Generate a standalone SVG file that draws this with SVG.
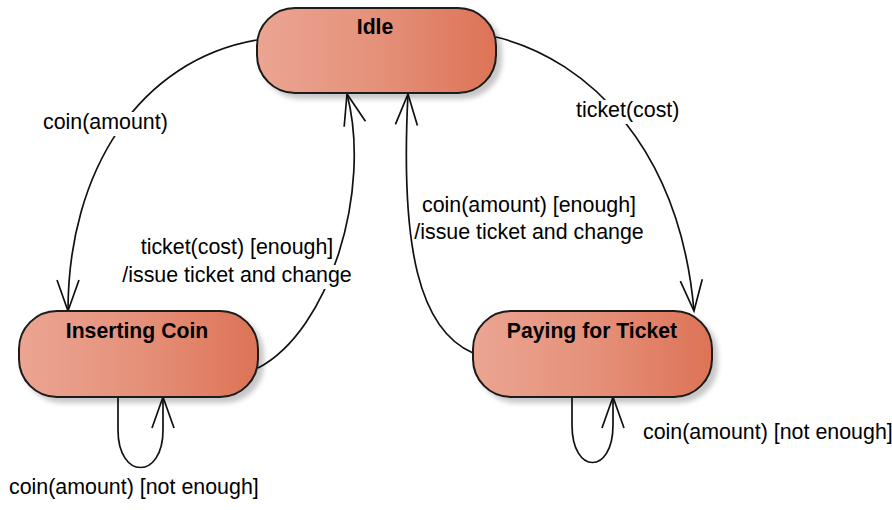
<svg xmlns="http://www.w3.org/2000/svg" width="892" height="510" viewBox="0 0 892 510">
<defs>
<linearGradient id="fillG" x1="0" y1="0" x2="1" y2="0">
<stop offset="0" stop-color="#EBA592"/>
<stop offset="0.5" stop-color="#E5917A"/>
<stop offset="1" stop-color="#DD7356"/>
</linearGradient>
<filter id="shadow" x="-10%" y="-10%" width="130%" height="140%">
<feDropShadow dx="5" dy="5" stdDeviation="2.5" flood-color="#000" flood-opacity="0.22"/>
</filter>
<marker id="open" markerUnits="userSpaceOnUse" markerWidth="40" markerHeight="30" viewBox="-34 -15 40 30" refX="0" refY="0" orient="auto">
<path d="M-31,-11 L0,0 L-31,11" fill="none" stroke="#111" stroke-width="1.7"/>
</marker>
</defs>
<style>
.state{fill:url(#fillG);stroke:#1a1a1a;stroke-width:2;filter:url(#shadow)}
.title{font-family:"Liberation Sans",Arial,sans-serif;font-size:21.2px;font-weight:bold;fill:#000;text-anchor:middle}
.lbl{font-family:"Liberation Sans",Arial,sans-serif;font-size:21.4px;fill:#000}
.edge{fill:none;stroke:#111;stroke-width:1.7;marker-end:url(#open)}
.bg{fill:#fff}
</style>
<rect width="892" height="510" fill="#fff"/>
<g id="connectors">
<path class="edge" d="M257,40 C140,60 68,170 68,311"/>
<path class="edge" d="M258,368 C330,330 372,190 347,94"/>
<path class="edge" d="M473,353 C420,330 400,250 408,94"/>
<path class="edge" d="M496,37 C590,60 680,150 694,311"/>
<path class="edge" d="M118,397 L118,430 C118,480 163,480 163,430 L163,397"/>
<path class="edge" d="M572,397 L572,425 C572,475 613,475 613,425 L613,397"/>
</g>
<g id="labels">
<rect class="bg" x="41" y="112" width="128" height="24"/>
<text class="lbl" x="43" y="129">coin(amount)</text>
<rect class="bg" x="574" y="100" width="106" height="24"/>
<text class="lbl" x="576" y="117">ticket(cost)</text>
<rect class="bg" x="136" y="237" width="198" height="24"/>
<rect class="bg" x="120" y="265" width="235" height="24"/>
<text class="lbl" x="237" y="254" text-anchor="middle">ticket(cost) [enough]</text>
<text class="lbl" x="237" y="282" text-anchor="middle">/issue ticket and change</text>
<text class="lbl" x="529" y="212" text-anchor="middle">coin(amount) [enough]</text>
<text class="lbl" x="529" y="239" text-anchor="middle">/issue ticket and change</text>
<text class="lbl" x="9" y="494">coin(amount) [not enough]</text>
<text class="lbl" x="643" y="439">coin(amount) [not enough]</text>
</g>
<g id="idle">
<rect class="state" x="257" y="8" width="239" height="85" rx="38" ry="38"/>
<text class="title" x="375" y="34">Idle</text>
</g>
<g id="inserting-coin">
<rect class="state" x="19" y="311" width="239" height="86" rx="38" ry="38"/>
<text class="title" x="137" y="338">Inserting Coin</text>
</g>
<g id="paying-for-ticket">
<rect class="state" x="473" y="311" width="239" height="86" rx="38" ry="38"/>
<text class="title" x="592" y="338">Paying for Ticket</text>
</g>
</svg>
